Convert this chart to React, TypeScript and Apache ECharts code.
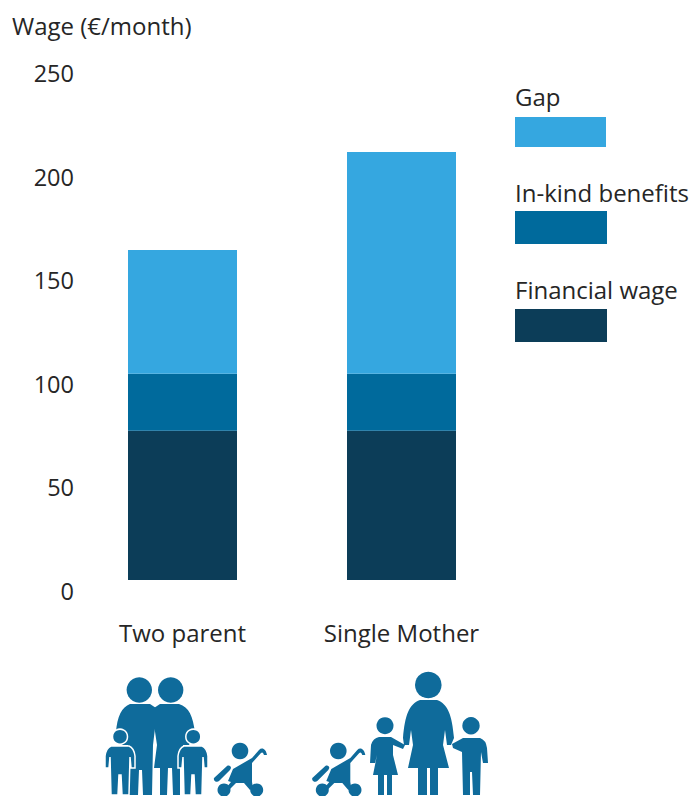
import React, { useEffect, useRef } from "react";
import * as echarts from "echarts";

const categories = ["Two parent", "Single Mother"];
const financialWage = [72, 72];
const inKindBenefits = [27.6, 27.6];
const gap = [59.7, 107];
const axisTitle = "Wage (€/month)";
const legendEntries = ["Gap", "In-kind benefits", "Financial wage"];

const FONT = '"Open Sans", sans-serif';
const TEXT = "#262626";
const GAP_C = "#35A7E0";
const INKIND_C = "#006A9C";
const FIN_C = "#0C3D58";
const ICON = "#0F6B9B";

const shapes: Record<string, string> = {
  famMan: "M130 704 C122 707 117 716 116 733 L122 745 L128 745 L129 795 L138 795 L139 770 L142 770 L143 795 L152 795 L153 745 L156 720 L156 708 L150 704 Z",
  famWoman: "M160 704 L179 704 C189 707 193 716 195 733 L189 745 L183 745 L186 768 L180 768 L180 795 L173 795 L172 768 L168 768 L167 795 L160 795 L160 768 L154 768 L157 745 L154 725 L154 708 Z",
  famChild: "M-9 746 L9 746 Q14 748 15 756 L15 768 L11 768 L10 757 L9 795 L2 795 L1 775 L-1 775 L-2 795 L-9 795 L-10 757 L-11 768 L-15 768 L-15 756 Q-14 748 -9 746 Z",
  famMother: "M420 700 L437 700 C448 704 452 715 454 738 L451 745 L447 745 L445 730 L443 745 L449 768 L438 768 L438 795 L430 795 L430 768 L427 768 L427 795 L418 795 L418 768 L408 768 L413 745 L411 730 L409 745 L404 745 L403 738 C405 715 409 704 420 700 Z",
  famGirl: "M379 737 L391 737 L405 745 L403 749 L393 745 L393 755 L398 775 L392 775 L392 795 L387 795 L387 775 L384 775 L384 795 L378 795 L378 775 L373 775 L377 755 L375 763 L370 763 L371 745 Q373 738 379 737 Z",
  famBoy: "M463 738 L480 738 Q486 740 487 748 L488 763 L483 763 L481 752 L480 795 L473 795 L472 772 L470 772 L470 795 L463 795 L462 752 L453 748 L452 744 L463 738 Z",
  famPram: "M252 758 L259 750 C262 747 266 749 267 755 L264 755 C263 752 262 752 261 753 L252 763 L252 782 L253 788 L250 790 L244 783 L236 783 L228 791 L226 788 L231 782 L228 781 L233 769 Z M214 778 L227 766 C229 765 231 766 231 768 L230 770 L219 781 C217 783 213 781 214 778 Z",
};
Object.entries(shapes).forEach(([name, d]) => {
  echarts.graphic.registerShape(name, echarts.graphic.extendPath(d as any, {}) as any);
});

const iconStyle = { fill: ICON };
const outlined = { fill: ICON, stroke: "#fff", lineWidth: 1.5 };
const head = (cx: number, cy: number, r: number, style: any = iconStyle) => ({ type: "circle", shape: { cx, cy, r }, style });
const pram = (dx: number) => ({
  type: "group",
  x: dx,
  children: [
    head(240, 751, 8.3),
    head(224, 790, 6.5),
    head(256.7, 790, 6.5),
    { type: "famPram", style: iconStyle },
  ],
});

const legendY = [
  { textY: 96, rectY: 117, h: 30, w: 91, c: GAP_C },
  { textY: 192, rectY: 211, h: 33, w: 92, c: INKIND_C },
  { textY: 289, rectY: 309, h: 33, w: 92, c: FIN_C },
];

const graphicElements: any[] = [
  ...legendEntries.flatMap((t, i) => [
    { type: "text", x: 515, y: legendY[i].textY, style: { text: t, font: `24px ${FONT}`, fill: TEXT, verticalAlign: "middle" } },
    { type: "rect", shape: { x: 515, y: legendY[i].rectY, width: legendY[i].w, height: legendY[i].h }, style: { fill: legendY[i].c } },
  ]),
  head(139.3, 690, 12.7),
  head(170.7, 690, 12.7),
  { type: "famMan", style: iconStyle },
  { type: "famWoman", style: iconStyle },
  { type: "famChild", x: 120, style: outlined },
  { type: "famChild", x: 193, style: outlined },
  head(120, 736.7, 7.5, outlined),
  head(193.3, 736.7, 7.5, outlined),
  pram(0),
  pram(98.3),
  head(428.3, 685, 13.3),
  { type: "famMother", style: iconStyle },
  head(385, 725.7, 8.5),
  { type: "famGirl", style: iconStyle },
  head(471, 725.7, 8.7),
  { type: "famBoy", style: iconStyle },
];

export default function App() {
  const ref = useRef<HTMLDivElement>(null);
  useEffect(() => {
    const chart = echarts.init(ref.current!, undefined, { renderer: "svg" });
    const bar = (name: string, data: number[], color: string) => ({
      name,
      type: "bar",
      stack: "total",
      data,
      barWidth: 109,
      itemStyle: { color },
    });
    chart.setOption({
      animation: false,
      title: {
        text: axisTitle,
        left: 12,
        top: 13,
        padding: 0,
        textStyle: { fontFamily: FONT, fontSize: 24, fontWeight: "normal", color: TEXT },
      },
      grid: { left: 73, right: 180, top: 62, bottom: 216, containLabel: false },
      xAxis: {
        type: "category",
        data: categories,
        axisLine: { show: false },
        axisTick: { show: false },
        axisLabel: { fontFamily: FONT, fontSize: 24, color: TEXT, margin: 40 },
      },
      yAxis: {
        type: "value",
        min: 0,
        max: 250,
        interval: 50,
        axisLine: { show: false },
        axisTick: { show: false },
        splitLine: { show: false },
        axisLabel: { fontFamily: FONT, fontSize: 23.5, color: TEXT, margin: -1, padding: [-1, 0, 0, 0], verticalAlign: "top", showMinLabel: true, showMaxLabel: true },
      },
      series: [
        bar(legendEntries[2], financialWage, FIN_C),
        bar(legendEntries[1], inKindBenefits, INKIND_C),
        bar(legendEntries[0], gap, GAP_C),
      ],
      graphic: { elements: graphicElements },
    });
    return () => chart.dispose();
  }, []);
  return <div ref={ref} style={{ position: "absolute", left: 0, top: 0, width: 691, height: 796, background: "#fff" }} />;
}
